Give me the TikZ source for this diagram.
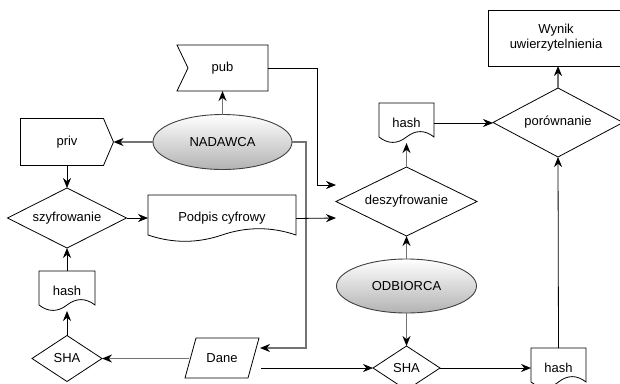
\documentclass[tikz,border=0pt]{standalone}
\usepackage{fontspec}
\setmainfont{Liberation Sans}
\usetikzlibrary{shapes.geometric,arrows.meta,calc}
\tikzset{
 lbl/.style={font=\fontsize{13}{15}\selectfont, inner sep=0pt, outer sep=0pt},
 dia/.style={lbl, shape=diamond, aspect=2, draw=black, line width=0.8pt, fill=white},
 ell/.style={lbl, shape=ellipse, draw=black!75, line width=0.9pt, top color=white, bottom color=black!30},
 frame/.style={lbl, shape=rectangle, draw=none},
 shp/.style={draw=black, line width=0.8pt},
 barr/.style={draw=black, line width=0.8pt, -{Stealth[length=10pt,width=8pt,color=black]}},
 garr/.style={draw=black!55, line width=1.8pt, -{Stealth[length=10pt,width=8pt,color=black]}},
}
\newcommand{\docpath}[2]{%
 \draw[shp] (#1.north west) -- (#1.north east) -- ($(#1.south east)+(0,-#2*0.5)$)
 .. controls ($(#1.south west)!0.8333!(#1.south east)+(0,-#2*1.1)$) and ($(#1.south west)!0.6667!(#1.south east)+(0,-#2*1.1)$) .. ($(#1.south)+(0,-#2*0.5)$)
 .. controls ($(#1.south west)!0.3333!(#1.south east)+(0,#2*0.1)$) and ($(#1.south west)!0.1667!(#1.south east)+(0,#2*0.1)$) .. ($(#1.south west)+(0,-#2*0.5)$) -- cycle;}
\begin{document}
\begin{tikzpicture}[x=1pt,y=-1pt]
\fill[white] (0,0) rectangle (620,383);
\useasboundingbox (0,0) rectangle (620,383);

% sender side
\node[ell, minimum width=139pt, minimum height=55pt] (nad) at (222.5,142) {NADAWCA};
\node[frame, minimum width=91pt, minimum height=46pt] (pub) at (222.5,68) {pub};
\node[frame, minimum width=93pt, minimum height=47pt] (priv) at (67,142) {priv};
\node[dia, minimum width=119pt, minimum height=60pt] (szy) at (67,218) {szyfrowanie};
\node[frame, minimum width=148pt, minimum height=47pt] (podpis) at (222,218.5) {Podpis cyfrowy};
\node[frame, minimum width=56pt, minimum height=40pt] (hashL) at (67,291) {hash};
\node[dia, minimum width=70pt, minimum height=46pt] (shaL) at (67,358.5) {SHA};
\node[frame, minimum width=74pt, minimum height=40pt] (dane) at (222,358) {Dane};

% receiver side
\node[dia, minimum width=141pt, minimum height=69pt] (des) at (406.5,201.5) {deszyfrowanie};
\node[frame, minimum width=55pt, minimum height=40pt] (hashT) at (406.5,123) {hash};
\node[dia, minimum width=130pt, minimum height=69pt] (por) at (558,122.5) {porównanie};
\node[lbl, draw=black, line width=0.8pt, minimum width=136pt, minimum height=56pt, align=center] (wynik) at (556,38) {Wynik\\uwierzytelnienia};
\node[ell, minimum width=140pt, minimum height=54pt] (odb) at (406.5,286) {ODBIORCA};
\node[dia, minimum width=67pt, minimum height=44pt] (shaR) at (406.5,368) {SHA};
\node[frame, minimum width=55pt, minimum height=40pt] (hashB) at (558.5,368) {hash};

% outlines of custom shapes
\draw[shp] (pub.north west) -- (pub.north east) -- (pub.south east) -- (pub.south west) -- ($(pub.west)+(11,0)$) -- cycle;
\draw[shp] (priv.north west) -- ($(priv.north east)+(-10,0)$) -- (priv.east) -- ($(priv.south east)+(-10,0)$) -- (priv.south west) -- cycle;
\draw[shp] ($(dane.north west)+(11,0)$) -- (dane.north east) -- ($(dane.south east)+(-11,0)$) -- (dane.south west) -- cycle;
\docpath{podpis}{14}
\docpath{hashL}{12}
\docpath{hashT}{12}
\docpath{hashB}{12}

% free ends
\coordinate (desIn1) at (336,185);
\coordinate (desIn2) at (336,218);
\coordinate (daneIn) at (260,348);
\coordinate (daneOut) at (261,368);
\coordinate (daneL) at (189,358.5);

% connectors
\draw[garr] (nad.north) -- (pub.south);
\draw[garr] (nad.west) -- (priv.east);
\draw[garr] (nad.east) -- ++(14,0) |- (daneIn);
\draw[barr] (pub.east) -- ++(49,0) |- (desIn1);
\draw[barr] (priv.south) -- (szy.north);
\draw[barr] (szy.east) -- (szy.east -| podpis.west);
\draw[barr] (hashL.north) -- (szy.south);
\draw[barr] (shaL.north) -- (hashL.south);
\draw[garr] (daneL) -- (shaL.east);
\draw[barr] (podpis.east) -- (desIn2);
\draw[barr] (daneOut) -- (shaR.west);
\draw[garr] (odb.north) -- (des.south);
\draw[garr] (odb.south) -- (shaR.north);
\draw[garr] (des.north) -- (hashT.south);
\draw[barr] (hashT.east) -- (hashT.east -| por.west);
\draw[barr] (shaR.east) -- (hashB.west);
\draw[barr] (hashB.north) -- (por.south);
\draw[garr] (por.north) -- (por.north |- wynik.south);
\end{tikzpicture}
\end{document}
